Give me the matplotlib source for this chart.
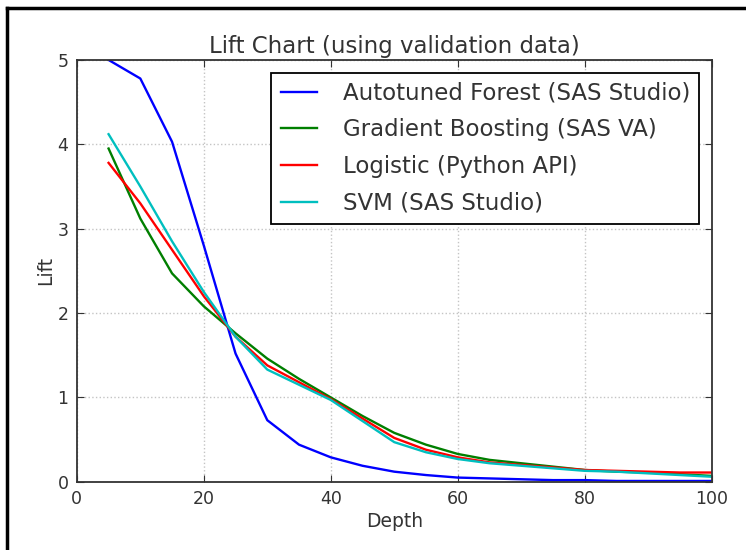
"""Lift chart (validation data) for four models."""
import matplotlib
matplotlib.use("Agg")
import matplotlib.pyplot as plt
from matplotlib.lines import Line2D

depth = [5, 10, 15, 20, 25, 30, 35, 40, 45, 50,
         55, 60, 65, 70, 75, 80, 85, 90, 95, 100]

forest = [5.0, 4.78, 4.03, 2.8, 1.52, 0.73, 0.44, 0.29, 0.19, 0.12,
          0.08, 0.05, 0.04, 0.03, 0.02, 0.02, 0.01, 0.01, 0.01, 0.01]
gboost = [3.95, 3.12, 2.47, 2.08, 1.76, 1.46, 1.22, 1.0, 0.78, 0.58,
          0.44, 0.33, 0.26, 0.22, 0.18, 0.14, 0.12, 0.11, 0.09, 0.07]
logistic = [3.78, 3.3, 2.75, 2.2, 1.72, 1.38, 1.18, 0.98, 0.75, 0.52,
            0.38, 0.29, 0.23, 0.2, 0.17, 0.14, 0.13, 0.12, 0.11, 0.11]
svm = [4.12, 3.5, 2.85, 2.25, 1.72, 1.33, 1.15, 0.97, 0.72, 0.47,
       0.35, 0.27, 0.22, 0.19, 0.16, 0.13, 0.12, 0.1, 0.08, 0.06]

labels = ["Autotuned Forest (SAS Studio)", "Gradient Boosting (SAS VA)",
          "Logistic (Python API)", "SVM (SAS Studio)"]
colors = ["#0000ff", "#007f00", "#ff0000", "#00bfbf"]

fig = plt.figure(figsize=(7.46, 5.5), dpi=100, facecolor="white")
ax = fig.add_axes([0.103, 0.124, 0.851, 0.767])

for ys, lab, c in zip([forest, gboost, logistic, svm], labels, colors):
    ax.plot(depth, ys, color=c, linewidth=1.7, label=lab)

ax.set_xlim(0, 100)
ax.set_ylim(0, 5)
ax.set_xticks([0, 20, 40, 60, 80, 100])
ax.set_yticks([0, 1, 2, 3, 4, 5])
ax.tick_params(direction="in", top=True, right=True, length=5,
               labelsize=12.5, colors="#333333", pad=6)
for s in ax.spines.values():
    s.set_color("#333333")
    s.set_linewidth(1.3)
ax.grid(True, color="#c4c4c4", linestyle=":", linewidth=1)
ax.set_xlabel("Depth", fontsize=13.5, color="#333333", labelpad=3)
ax.set_ylabel("Lift", fontsize=13.5, color="#333333", labelpad=2)
ax.set_title("Lift Chart (using validation data)", fontsize=16.5,
             color="#333333", pad=5)

leg = ax.legend(loc="upper right", fontsize=16.5, fancybox=False,
                handlelength=1.6, handletextpad=1.1, borderpad=0.4,
                labelspacing=0.6, framealpha=1, borderaxespad=0.55)
leg.get_frame().set_edgecolor("black")
leg.get_frame().set_linewidth(1.3)
for t in leg.get_texts():
    t.set_color("#333333")

# screenshot frame on the left and top edges
fig.add_artist(Line2D([0.01, 0.01], [0.0, 0.985], color="black", linewidth=2.5))
fig.add_artist(Line2D([0.01, 1.0], [0.985, 0.985], color="black", linewidth=2.5))

fig.savefig("out.png", dpi=100, facecolor="white")
